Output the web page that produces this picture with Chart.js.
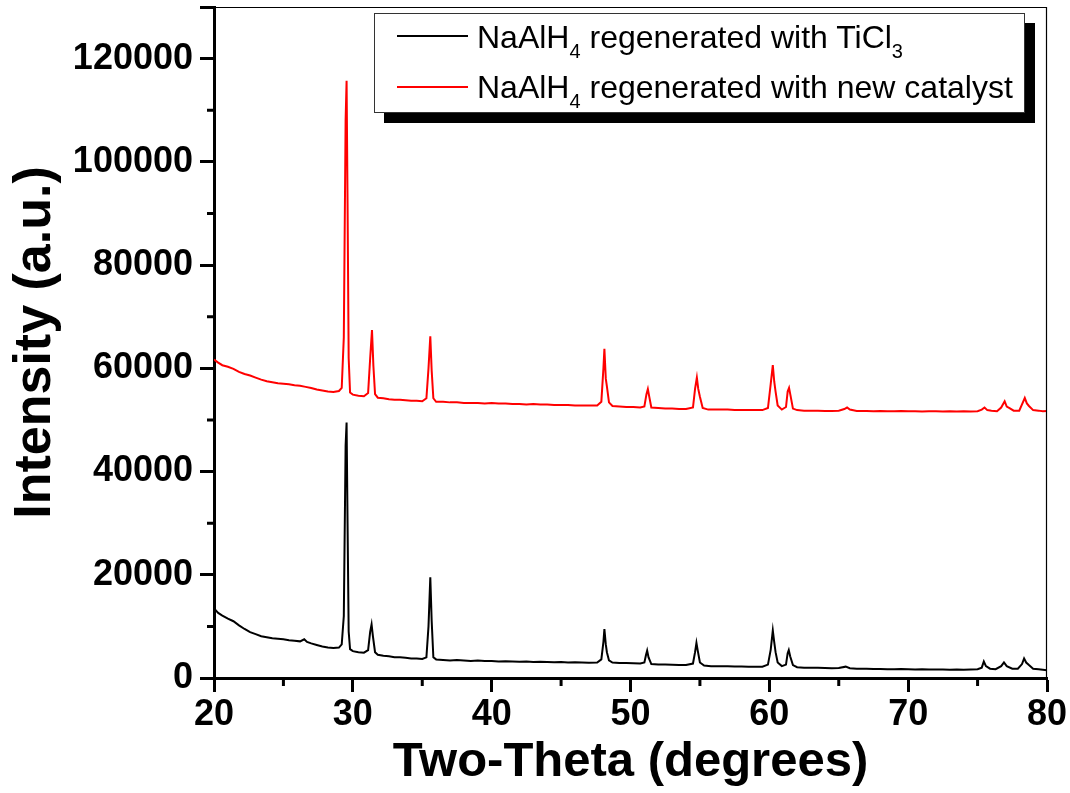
<!DOCTYPE html>
<html>
<head>
<meta charset="utf-8">
<script src="https://cdn.jsdelivr.net/npm/chart.js@4.4.1/dist/chart.umd.min.js"></script>
<style>
  html, body { margin: 0; padding: 0; background: #ffffff; }
  #wrap { position: relative; width: 1070px; height: 793px; overflow: hidden; background: #ffffff; }
  #c { position: absolute; left: 0; top: 0; }
  #legend {
    position: absolute; left: 374px; top: 13px; width: 651px; height: 100px;
    box-sizing: border-box; border: 1px solid #333; background: #fff;
    box-shadow: 10px 10px 0 #000;
    font-family: "Liberation Sans", Arial, sans-serif; font-size: 32px; color: #000;
  }
  .sample { position: absolute; left: 22px; width: 71px; height: 1.5px; }
  .ltext { position: absolute; left: 102px; line-height: 32px; white-space: nowrap; }
  .sb { font-size: 20px; position: relative; top: 10px; }
</style>
</head>
<body>
<div id="wrap">
  <canvas id="c" width="1070" height="793"></canvas>
  <div id="legend">
    <div class="sample" style="top:21px;background:#000;"></div>
    <div class="ltext" style="top:7px;">NaAlH<span class="sb">4</span> regenerated with TiCl<span class="sb">3</span></div>
    <div class="sample" style="top:72px;background:#ff0000;"></div>
    <div class="ltext" style="top:57px;">NaAlH<span class="sb">4</span> regenerated with new catalyst</div>
  </div>
</div>
<script>
// ---- Data ----
const seriesNames = ["NaAlH4 regenerated with TiCl3", "NaAlH4 regenerated with new catalyst"];
const xTickValues = [20, 30, 40, 50, 60, 70, 80];
const yTickValues = [0, 20000, 40000, 60000, 80000, 100000, 120000];

const ticl3TwoTheta = [
  20.0, 20.3, 20.6, 21.0, 21.4, 21.8, 22.2, 22.6, 23.0, 23.4, 23.8, 24.2, 24.6, 25.0, 25.4, 25.8, 26.2, 26.5, 26.7, 27.0,
  27.4, 27.8, 28.2, 28.6, 29.0, 29.2, 29.35, 29.48, 29.55, 29.62, 29.7, 29.8, 30.0, 30.4, 30.8, 31.1, 31.25, 31.35, 31.45, 31.6,
  31.8, 32.2, 32.6, 33.0, 33.4, 33.8, 34.2, 34.6, 35.0, 35.3, 35.45, 35.58, 35.68, 35.8, 36.0, 36.5, 37.0, 37.5, 38.0, 38.5,
  39.0, 39.5, 40.0, 40.5, 41.0, 41.5, 42.0, 42.5, 43.0, 43.5, 44.0, 44.5, 45.0, 45.5, 46.0, 46.5, 47.0, 47.6, 47.9, 48.05,
  48.12, 48.22, 48.3, 48.45, 48.7, 49.2, 49.7, 50.2, 50.7, 51.0, 51.12, 51.2, 51.3, 51.5, 52.0, 52.5, 53.0, 53.5, 54.0, 54.5,
  54.65, 54.75, 54.85, 55.0, 55.3, 55.8, 56.5, 57.0, 57.5, 58.0, 58.5, 59.0, 59.5, 59.9, 60.1, 60.25, 60.35, 60.45, 60.6, 60.9,
  61.2, 61.32, 61.4, 61.5, 61.7, 62.0, 62.5, 63.0, 63.5, 64.0, 64.5, 65.0, 65.5, 65.8, 66.3, 67.0, 67.5, 68.0, 68.5, 69.0,
  69.5, 70.0, 70.5, 71.0, 71.5, 72.0, 72.5, 73.0, 73.5, 74.0, 74.5, 75.0, 75.3, 75.45, 75.6, 75.9, 76.3, 76.7, 76.9, 77.1,
  77.5, 77.9, 78.2, 78.35, 78.5, 78.7, 79.0, 79.4, 79.7, 80.0
];
const ticl3Intensity = [
  13500, 12600, 12100, 11500, 11000, 10200, 9500, 8900, 8500, 8100, 7900, 7700, 7600, 7500, 7300, 7200, 7100, 7500, 7000, 6700,
  6400, 6100, 5900, 5800, 5900, 6500, 12000, 45000, 49500, 30000, 9000, 5600, 5200, 5000, 4900, 5400, 9000, 10400, 8000, 5000,
  4500, 4300, 4200, 4000, 4000, 3900, 3800, 3800, 3700, 4000, 10000, 19500, 11000, 4000, 3600, 3500, 3400, 3500, 3400, 3300,
  3400, 3300, 3300, 3200, 3250, 3200, 3150, 3200, 3100, 3150, 3100, 3050, 3100, 3000, 3050, 3000, 2950, 3000, 3600, 7000,
  9500, 6500, 5000, 3400, 3000, 2900, 2900, 2850, 2800, 3000, 4500, 5300, 4000, 2700, 2600, 2600, 2550, 2500, 2500, 2800,
  5000, 6800, 5200, 3000, 2400, 2300, 2300, 2300, 2250, 2250, 2200, 2200, 2200, 2600, 5500, 9200, 7000, 5000, 3000, 2300,
  2600, 4800, 5400, 4200, 2500, 2100, 2000, 2000, 2000, 1950, 1900, 1950, 2200, 1900, 1800, 1800, 1750, 1750, 1700, 1700,
  1750, 1700, 1650, 1700, 1650, 1650, 1650, 1600, 1650, 1600, 1650, 1700, 2000, 3200, 2300, 1800, 1700, 2300, 3000, 2300,
  1800, 1800, 2700, 3800, 3000, 2500, 1800, 1700, 1600, 1500
];

const newCatTwoTheta = [
  20.0, 20.3, 20.6, 21.0, 21.4, 21.8, 22.2, 22.6, 23.0, 23.4, 23.8, 24.2, 24.6, 25.0, 25.4, 25.8, 26.2, 26.6, 27.0, 27.4,
  27.8, 28.2, 28.6, 29.0, 29.2, 29.35, 29.48, 29.55, 29.62, 29.7, 29.8, 30.0, 30.4, 30.8, 31.1, 31.25, 31.38, 31.48, 31.6, 31.8,
  32.2, 32.6, 33.0, 33.4, 33.8, 34.2, 34.6, 35.0, 35.3, 35.45, 35.58, 35.68, 35.8, 36.0, 36.5, 37.0, 37.5, 38.0, 38.5, 39.0,
  39.5, 40.0, 40.5, 41.0, 41.5, 42.0, 42.5, 43.0, 43.5, 44.0, 44.5, 45.0, 45.5, 46.0, 46.5, 47.0, 47.6, 47.9, 48.05, 48.12,
  48.22, 48.3, 48.45, 48.7, 49.2, 49.7, 50.2, 50.7, 51.0, 51.15, 51.25, 51.35, 51.5, 52.0, 52.5, 53.0, 53.5, 54.0, 54.5, 54.65,
  54.78, 54.88, 55.0, 55.2, 55.6, 56.0, 56.5, 57.0, 57.5, 58.0, 58.5, 59.0, 59.5, 59.9, 60.1, 60.25, 60.35, 60.45, 60.6, 60.9,
  61.2, 61.32, 61.42, 61.52, 61.7, 62.0, 62.5, 63.0, 63.5, 64.0, 64.5, 65.0, 65.4, 65.6, 65.8, 66.3, 67.0, 67.5, 68.0, 68.5,
  69.0, 69.5, 70.0, 70.5, 71.0, 71.5, 72.0, 72.5, 73.0, 73.5, 74.0, 74.5, 75.0, 75.3, 75.5, 75.7, 76.0, 76.4, 76.7, 76.95,
  77.1, 77.3, 77.6, 78.0, 78.2, 78.4, 78.55, 78.7, 79.0, 79.4, 79.7, 80.0
];
const newCatIntensity = [
  61700, 61100, 60600, 60300, 59900, 59300, 58900, 58600, 58200, 57800, 57500, 57300, 57100, 57000, 56900, 56700, 56600, 56400, 56200, 55900,
  55700, 55500, 55400, 55600, 56200, 66000, 108000, 115700, 92000, 62000, 55300, 54900, 54700, 54600, 55200, 62000, 67400, 60500, 55000, 54300,
  54200, 54000, 53900, 53900, 53800, 53700, 53700, 53600, 54200, 60000, 66200, 59500, 54200, 53500, 53500, 53400, 53400, 53300, 53300, 53300,
  53200, 53300, 53200, 53200, 53100, 53100, 53000, 53100, 53000, 53000, 52900, 52900, 52900, 52800, 52800, 52800, 52800, 53500, 60000, 63800,
  58000, 56500, 53400, 52700, 52600, 52500, 52500, 52400, 52600, 55000, 56000, 54500, 52400, 52300, 52200, 52200, 52100, 52100, 52400, 56000,
  58200, 56000, 54500, 52300, 52000, 52000, 52000, 52000, 51900, 51900, 51900, 51900, 51900, 52300, 57000, 60600, 57500, 55500, 52800, 52000,
  52500, 55500, 56200, 54800, 52200, 51900, 51800, 51800, 51800, 51750, 51750, 51800, 52100, 52400, 52000, 51750, 51750, 51700, 51750, 51700,
  51700, 51750, 51700, 51700, 51650, 51700, 51700, 51650, 51700, 51650, 51700, 51650, 51700, 52000, 52400, 51900, 51800, 51700, 52400, 53600,
  52600, 52300, 51800, 51800, 53000, 54250, 53200, 52700, 51900, 51800, 51700, 51750
];

// ---- Chart ----
const FONT = '"Liberation Sans", Arial, sans-serif';
const toPoints = (xs, ys) => xs.map((x, i) => ({ x: x, y: ys[i] }));

const frameAndMinorTicks = {
  id: 'frameAndMinorTicks',
  afterDraw(chart) {
    const ctx = chart.ctx;
    const a = chart.chartArea;
    const xs = chart.scales.x, ys = chart.scales.y;
    ctx.save();
    ctx.strokeStyle = '#000';
    // thin top and right frame
    ctx.lineWidth = 1.2;
    ctx.beginPath();
    ctx.moveTo(a.left, a.top + 0.5); ctx.lineTo(a.right, a.top + 0.5);
    ctx.moveTo(a.right - 0.5, a.top); ctx.lineTo(a.right - 0.5, a.bottom);
    ctx.stroke();
    // minor ticks
    ctx.lineWidth = 3;
    ctx.beginPath();
    for (let i = 0; i < xTickValues.length - 1; i++) {
      const v = (xTickValues[i] + xTickValues[i + 1]) / 2;
      const px = xs.getPixelForValue(v);
      ctx.moveTo(px, a.bottom); ctx.lineTo(px, a.bottom + 8);
    }
    for (let i = 0; i < yTickValues.length - 1; i++) {
      const v = (yTickValues[i] + yTickValues[i + 1]) / 2;
      const py = ys.getPixelForValue(v);
      ctx.moveTo(a.left, py); ctx.lineTo(a.left - 7, py);
    }
    ctx.stroke();
    ctx.restore();
  }
};

new Chart(document.getElementById('c'), {
  type: 'scatter',
  data: {
    datasets: [
      {
        label: seriesNames[0],
        data: toPoints(ticl3TwoTheta, ticl3Intensity),
        showLine: true, borderColor: '#000000', borderWidth: 2,
        pointRadius: 0, tension: 0
      },
      {
        label: seriesNames[1],
        data: toPoints(newCatTwoTheta, newCatIntensity),
        showLine: true, borderColor: '#ff0000', borderWidth: 2,
        pointRadius: 0, tension: 0
      }
    ]
  },
  options: {
    responsive: false,
    animation: false,
    layout: { padding: { left: 0, top: 7, right: 23, bottom: 0 } },
    plugins: { legend: { display: false }, tooltip: { enabled: false } },
    scales: {
      x: {
        type: 'linear', min: 20, max: 80,
        afterFit: (s) => { s.height = 115; s.paddingLeft = 0; s.paddingRight = 0; },
        afterBuildTicks: (s) => { s.ticks = xTickValues.map(v => ({ value: v })); },
        ticks: {
          color: '#000', padding: 1, autoSkip: false, maxRotation: 0,
          font: { family: FONT, size: 36, weight: 'bold' },
          callback: (v) => String(v)
        },
        grid: { display: true, drawOnChartArea: false, tickLength: 14, tickWidth: 3, tickColor: '#000' },
        border: { display: true, width: 3, color: '#000' },
        title: {
          display: true, text: 'Two-Theta (degrees)', color: '#000',
          font: { family: FONT, size: 49, weight: 'bold', lineHeight: 1 },
          padding: { top: 0, bottom: 6 }
        }
      },
      y: {
        type: 'linear', min: 0, max: 130000,
        afterFit: (s) => { s.width = 214; s.paddingTop = 0; s.paddingBottom = 0; },
        afterBuildTicks: (s) => { s.ticks = yTickValues.concat([130000]).map(v => ({ value: v })); },
        ticks: {
          color: '#000', padding: 7, autoSkip: false,
          font: { family: FONT, size: 36, weight: 'bold' },
          callback: (v) => (yTickValues.indexOf(v) >= 0 ? String(v) : '')
        },
        grid: { display: true, drawOnChartArea: false, tickLength: 14, tickWidth: 3, tickColor: '#000' },
        border: { display: true, width: 3, color: '#000' },
        title: {
          display: true, text: 'Intensity (a.u.)', color: '#000',
          font: { family: FONT, size: 52, weight: 'bold', lineHeight: 1 },
          padding: { top: 10, bottom: 0 }
        }
      }
    }
  },
  plugins: [frameAndMinorTicks]
});
</script>
</body>
</html>
